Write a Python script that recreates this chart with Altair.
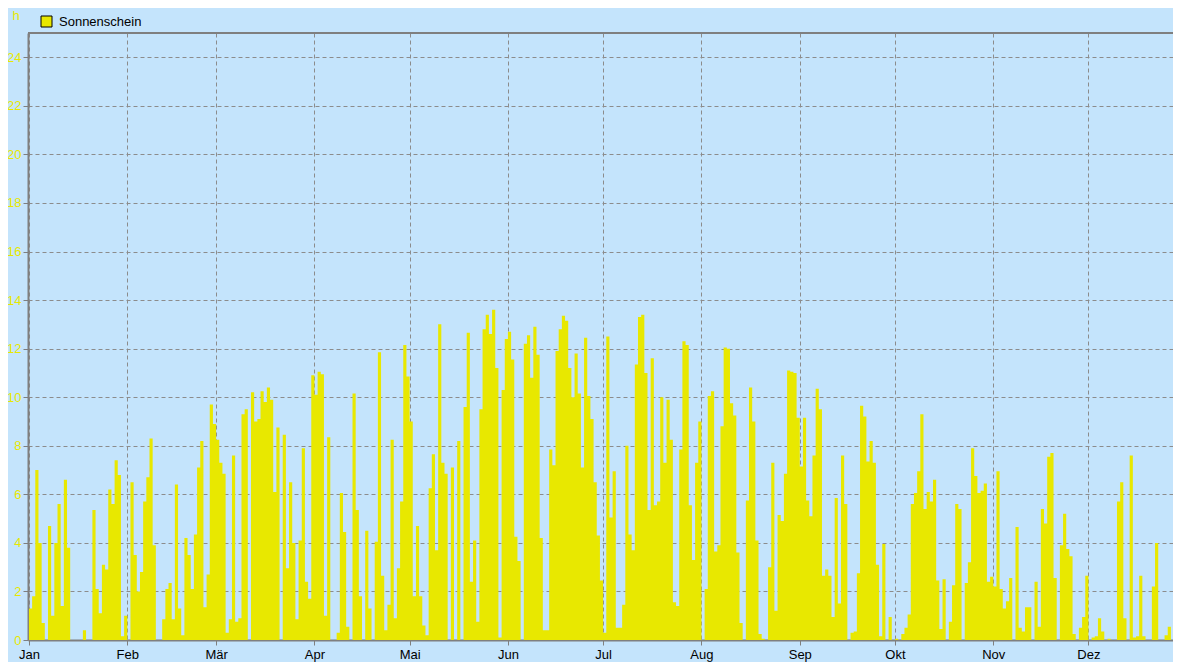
import json
import altair as alt
import pandas as pd

# Daily sunshine duration (hours), Jan 1 .. Dec 31
sunshine = [
    # Jan (0-30)
    1.3, 1.8, 7.0, 4.0, 0.7, 0.0, 4.7, 1.0, 4.0, 5.6,
    1.4, 6.6, 3.8, 0.0, 0.0, 0.0, 0.0, 0.4, 0.0, 0.0,
    5.35, 2.1, 1.1, 3.1, 2.9, 6.2, 5.6, 7.4, 6.8, 0.15,
    1.0,
    # Feb (31-58)
    0.0, 6.5, 3.5, 2.0, 2.8, 5.7, 6.7, 8.3, 3.9, 0.0,
    0.0, 0.85, 2.1, 2.35, 0.85, 6.4, 1.3, 0.2, 4.2, 3.5,
    2.1, 4.35, 7.1, 8.2, 1.35, 2.7, 9.7, 8.9,
    # Mar (59-89)
    8.25, 7.3, 6.85, 0.3, 0.85, 7.6, 0.75, 0.9, 9.3, 9.5,
    0.0, 10.2, 9.0, 9.1, 10.25, 9.8, 10.4, 9.9, 6.1, 8.75,
    0.0, 8.45, 2.95, 6.5, 4.0, 0.85, 4.1, 7.9, 2.4, 1.7,
    10.9,
    # Apr (90-119)
    10.1, 11.05, 10.95, 1.0, 8.35, 0.0, 0.0, 0.3, 6.05, 4.45,
    0.55, 0.0, 10.15, 5.35, 1.8, 0.0, 4.5, 1.3, 0.0, 4.05,
    11.85, 2.65, 0.4, 1.45, 8.25, 0.9, 2.95, 5.7, 12.15, 10.85,
    # May (120-150)
    9.0, 1.8, 4.7, 1.8, 0.6, 0.2, 6.25, 7.65, 3.7, 13.0,
    7.3, 6.85, 0.0, 7.1, 0.0, 8.2, 0.0, 9.6, 12.65, 2.4,
    4.1, 0.75, 9.5, 12.8, 13.4, 12.6, 13.6, 11.2, 0.1, 10.3,
    12.4,
    # Jun (151-180)
    12.7, 11.55, 4.25, 3.25, 0.0, 12.2, 12.55, 10.8, 12.9, 11.75,
    4.2, 0.4, 0.4, 7.85, 7.2, 11.9, 12.8, 13.35, 13.15, 11.2,
    10.0, 11.8, 10.15, 7.1, 12.45, 10.05, 9.1, 6.5, 4.3, 2.45,
    # Jul (181-211)
    0.3, 12.5, 5.05, 6.95, 0.5, 0.5, 1.45, 8.0, 4.35, 3.7,
    11.35, 13.3, 13.4, 11.0, 5.35, 11.6, 5.55, 5.7, 10.0, 7.3,
    9.9, 8.25, 1.55, 1.4, 7.85, 12.3, 12.15, 5.55, 3.3, 7.3,
    9.0,
    # Aug (212-242)
    0.0, 2.1, 10.05, 10.25, 3.65, 3.9, 8.8, 12.05, 12.0, 9.75,
    9.25, 3.6, 0.7, 0.0, 5.75, 10.4, 9.0, 4.1, 0.25, 0.05,
    0.0, 3.0, 7.3, 1.2, 5.15, 4.9, 6.85, 11.1, 11.05, 11.0,
    9.15,
    # Sep (243-272)
    7.15, 9.15, 5.75, 5.1, 7.6, 10.35, 9.5, 2.65, 2.9, 2.65,
    0.95, 5.85, 1.5, 7.6, 5.6, 0.0, 0.3, 0.35, 2.75, 9.65,
    9.2, 7.35, 8.2, 7.3, 3.1, 0.15, 3.95, 0.0, 0.95, 0.0,
    # Oct (273-303)
    0.05, 0.0, 0.25, 0.5, 1.05, 5.6, 6.05, 6.95, 9.3, 5.4,
    6.1, 5.7, 6.6, 2.45, 0.45, 2.5, 0.0, 0.75, 2.25, 5.6,
    5.4, 0.0, 2.35, 3.2, 7.9, 6.75, 6.05, 6.15, 6.45, 2.4,
    2.6,
    # Nov (304-333)
    2.2, 6.95, 2.1, 1.3, 1.6, 2.55, 0.0, 4.65, 0.5, 0.35,
    1.35, 1.35, 0.0, 2.4, 0.55, 5.4, 4.8, 7.55, 7.7, 2.55,
    0.0, 3.9, 5.2, 3.75, 3.45, 0.25, 0.0, 0.5, 0.95, 2.65,
    # Dec (334-364)
    0.0, 0.1, 0.15, 0.9, 0.35, 0.0, 0.05, 0.0, 0.0, 5.7,
    6.5, 0.9, 0.0, 7.6, 0.1, 0.15, 2.65, 0.15, 0.0, 0.0,
    2.2, 4.0, 0.0, 0.0, 0.2, 0.55, 0.0, 1.45, 3.55, 1.5,
    0.0,
]

month_names = ["Jan", "Feb", "Mär", "Apr", "Mai", "Jun",
               "Jul", "Aug", "Sep", "Okt", "Nov", "Dez"]
month_start_days = [0, 31, 59, 90, 120, 151, 181, 212, 243, 273, 304, 334]
y_ticks = list(range(0, 25, 2))
y_max = 25
series_name = "Sonnenschein"
unit_label = "h"
title_text = "Jahr 2009"

YELLOW = "#E8E800"
BG = "#C4E4FC"
GRID = "#8C8C8C"
AXIS = "#7F7F7F"
FONT = "Liberation Sans"

n = len(sunshine)
df = pd.DataFrame({
    "day": list(range(n)) + [n],
    "hours": sunshine + [sunshine[-1]],
    "series": [series_name] * (n + 1),
})

label_expr = "{}[indexof({}, datum.value)]".format(
    json.dumps(month_names, ensure_ascii=False), json.dumps(month_start_days)
)

x_enc = alt.X(
    "day:Q",
    scale=alt.Scale(domain=[-0.3, 360.66], nice=False, zero=False),
    axis=alt.Axis(
        values=month_start_days, labelExpr=label_expr, title=None,
        grid=True, gridDash=[4, 3], gridColor=GRID, gridWidth=1,
        tickSize=5, tickColor=AXIS, tickWidth=1,
        domainColor=AXIS, domainWidth=2,
        labelColor="black", labelFontSize=13, labelPadding=3,
        labelFont=FONT, labelBaseline="top", labelFlush=False,
    ),
)
y_scale = alt.Scale(domain=[0, y_max], nice=False)

area = alt.Chart(df).mark_area(
    interpolate="step-after", clip=True, opacity=1
).encode(
    x=x_enc,
    y=alt.Y(
        "hours:Q",
        scale=y_scale,
        axis=alt.Axis(
            values=y_ticks, title=unit_label, titleAngle=0,
            titleX=-16, titleY=-14, titleAlign="left", titleBaseline="alphabetic",
            titleColor=YELLOW, titleFontWeight="normal", titleFontSize=13,
            titleFont=FONT,
            grid=True, gridDash=[4, 3], gridColor=GRID, gridWidth=1,
            tickSize=5, tickColor=AXIS, tickWidth=1,
            domainColor=AXIS, domainWidth=2,
            labelColor=YELLOW, labelFontSize=13, labelPadding=2,
            labelFont=FONT,
        ),
    ),
    color=alt.Color(
        "series:N",
        scale=alt.Scale(range=[YELLOW]),
        legend=alt.Legend(
            orient="none", legendX=12, legendY=-18, title=None,
            symbolType="square", symbolSize=121, symbolStrokeColor="black",
            symbolStrokeWidth=1, symbolOpacity=1,
            labelFontSize=13, labelColor="black", labelFont=FONT,
            labelOffset=6, padding=0,
        ),
    ),
)

top_border = alt.Chart(df).mark_rule(color=AXIS, strokeWidth=2).encode(
    y=alt.datum(y_max, scale=y_scale)
)

chart = alt.layer(area, top_border).properties(
    width=1145,
    height=607,
    title=alt.TitleParams(
        text=title_text, anchor="middle", fontSize=13, fontWeight="normal",
        color="black", font=FONT, offset=0, baseline="bottom",
    ),
    padding={"left": 20, "top": 25, "right": 0, "bottom": 22},
    autosize=alt.AutoSizeParams(type="none"),
    background=BG,
).configure_view(
    strokeWidth=0, fill=BG
)

chart.save("out.html", embed_options={"renderer": "svg", "actions": False})
